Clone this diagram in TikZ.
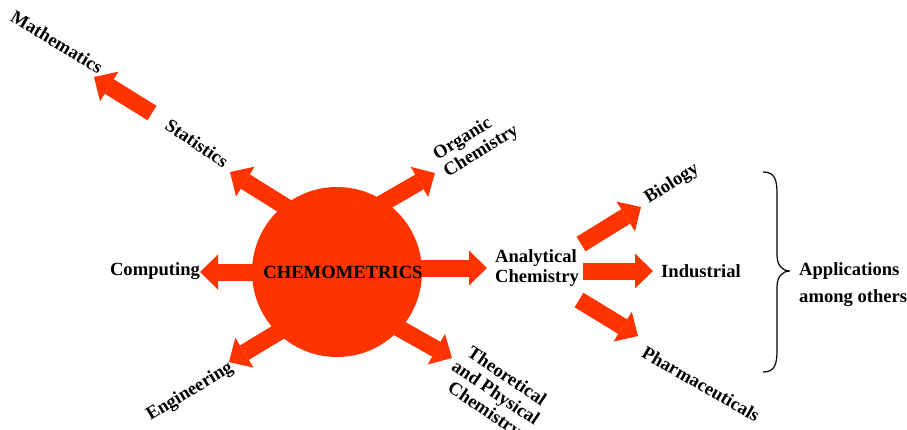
\documentclass[tikz,border=0pt]{standalone}
\usepackage{fontspec}
\setmainfont{Liberation Serif}
\usetikzlibrary{arrows.meta}
\definecolor{chemred}{RGB}{255,51,0}
\tikzset{
  blk/.style={draw=chemred, line width=17pt,
    -{Triangle[length=18pt,width=35pt,line width=0pt]}},
  lbl/.style={font=\bfseries\fontsize{18.6}{20}\selectfont, inner sep=0pt, text=black},
}
\begin{document}
\begin{tikzpicture}[x=1pt,y=-1pt]
\useasboundingbox (0,0) rectangle (907,429);
% circle
\node[circle, fill=chemred, minimum size=170pt, inner sep=0pt] (chem) at (337,272) {};
% coordinates
\coordinate (statT) at (318,227);
\coordinate (statH) at (230,172);
\coordinate (orgT) at (350,222);
\coordinate (orgH) at (435,173);
\coordinate (compT) at (300,272);
\coordinate (compH) at (200,272);
\coordinate (anaT) at (380,268);
\coordinate (anaH) at (487,268);
\coordinate (engT) at (323,305);
\coordinate (engH) at (229,362);
\coordinate (theoT) at (356,304);
\coordinate (theoH) at (452,358);
\coordinate (mathT) at (152,113);
\coordinate (mathH) at (94,77);
\coordinate (bioT) at (581,244);
\coordinate (bioH) at (641,207);
\coordinate (indT) at (583,271);
\coordinate (indH) at (653,271);
\coordinate (phT) at (579,300);
\coordinate (phH) at (638,336);
% arrows
\draw[blk] (statT) -- (statH);
\draw[blk] (orgT) -- (orgH);
\draw[blk] (compT) -- (compH);
\draw[blk] (anaT) -- (anaH);
\draw[blk] (engT) -- (engH);
\draw[blk] (theoT) -- (theoH);
\draw[blk] (mathT) -- (mathH);
\draw[blk] (bioT) -- (bioH);
\draw[blk] (indT) -- (indH);
\draw[blk] (phT) -- (phH);
% labels
\node[lbl] (chemtxt) at (343,272) {CHEMOMETRICS};
\node[lbl] (comp) at (155,271) {Computing};
\node[lbl, anchor=west, align=left] (ana) at (495,268) {Analytical\\Chemistry};
\node[lbl] (ind) at (701,271) {Industrial};
\node[lbl, rotate=-31] (math) at (57,42) {Mathematics};
\node[lbl, rotate=-34] (stat) at (197,143) {Statistics};
\node[lbl, rotate=32, align=left] (org) at (476,143) {Organic\\Chemistry};
\node[lbl, rotate=-34, align=center] (theo) at (495,394) {Theoretical\\and Physical\\Chemistry};
\node[lbl, rotate=31] (eng) at (190,392) {Engineering};
\node[lbl, rotate=32] (bio) at (672,184) {Biology};
\node[lbl, rotate=-30] (pharm) at (701,384) {Pharmaceuticals};
\node[lbl, anchor=west, align=left, font=\bfseries\fontsize{18.6}{27}\selectfont] (app) at (799,285) {Applications\\among others};
% brace
\coordinate (bt) at (763,172);
\coordinate (bm) at (790,271);
\coordinate (bb) at (763,372);
\draw[line width=1.2pt] (bt) .. controls (775,172) and (777,180) .. (777,194) -- (777,255)
  .. controls (777,265) and (782,271) .. (bm)
  .. controls (782,271) and (777,277) .. (777,287) -- (777,350)
  .. controls (777,364) and (775,372) .. (bb);
\end{tikzpicture}
\end{document}
